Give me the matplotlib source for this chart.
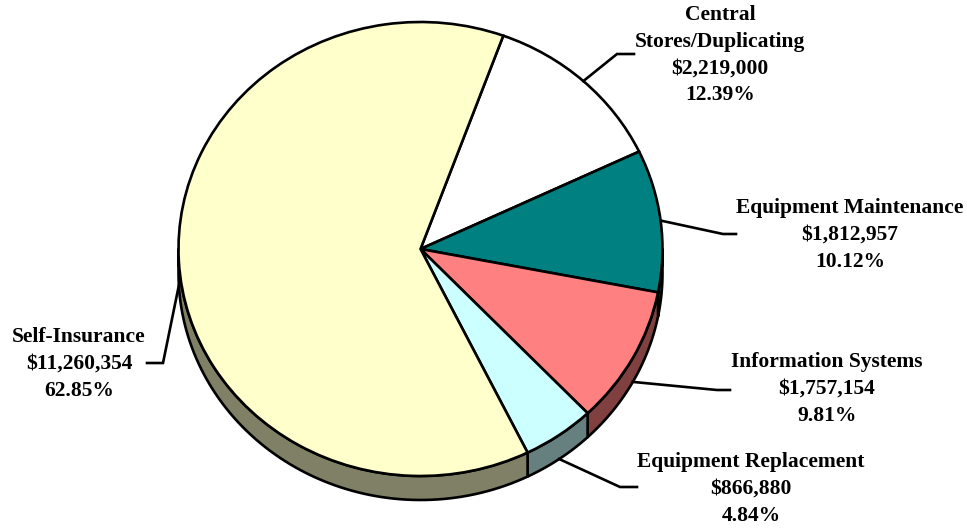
import numpy as np
import matplotlib.pyplot as plt
from matplotlib.patches import Polygon

# data
categories = ["Central\nStores/Duplicating", "Equipment Maintenance",
              "Information Systems", "Equipment Replacement", "Self-Insurance"]
amounts = [2219000, 1812957, 1757154, 866880, 11260354]
top_colors = ["#FFFFFF", "#008080", "#FF8080", "#CCFFFF", "#FFFFCC"]
side_colors = ["#808080", "#004040", "#804040", "#668080", "#808066"]

# leader elbows / ends and label centres, in pixels of the reference
elbows = [(617, 54), (723, 234), (717, 390), (620, 487), (163, 363)]
ends = [(634, 54), (736, 234), (730, 390), (637, 487), (147, 363)]
text_pos = [(720, 55), (850, 235), (827, 389), (751, 489), (79, 364)]

W, H = 967, 529
CX, CY = 420.5, 249      # pie centre
RX, RY = 242, 227        # top-face radii
DEPTH = 24 / RY


def px(x, y):
    return (x - CX) / RX, (CY - y) / RY


fig = plt.figure(figsize=(W / 100, H / 100), dpi=100)
ax = fig.add_axes([0, 0, 1, 1])

wedges, _ = ax.pie(
    amounts,
    colors=top_colors,
    startangle=70,
    counterclock=False,
    wedgeprops=dict(edgecolor="black", linewidth=1.9),
)
for w in wedges:
    w.set_zorder(3)


def front_spans(t1, t2):
    spans = []
    for k in (-720, -360, 0, 360):
        a, b = max(t1 + k, -180), min(t2 + k, 0)
        if b > a:
            spans.append((a, b))
    return spans


# side of the 3D pie
for w, side in zip(wedges, side_colors):
    for a, b in front_spans(w.theta1, w.theta2):
        t = np.radians(np.linspace(a, b, 80))
        top = np.c_[np.cos(t), np.sin(t)]
        bot = np.c_[np.cos(t[::-1]), np.sin(t[::-1]) - DEPTH]
        ax.add_patch(Polygon(np.vstack([top, bot]), closed=True, fc=side,
                             ec="black", lw=1.9, joinstyle="round", zorder=2))

# labels with leader lines
total = sum(amounts)
for w, name, amt, el, en, tp in zip(wedges, categories, amounts, elbows, ends, text_pos):
    m = np.radians((w.theta1 + w.theta2) / 2)
    sx, sy = np.cos(m), np.sin(m)
    if sy < 0:
        sy -= DEPTH
    ex, ey = px(*el)
    nx, ny = px(*en)
    ax.plot([sx, ex, nx], [sy, ey, ny], color="black", lw=1.9, zorder=4,
            solid_joinstyle="miter")
    tx, ty = px(*tp)
    label = f"{name}\n${amt:,}\n{amt / total * 100:.2f}%"
    ax.text(tx, ty, label, ha="center", va="center", multialignment="center",
            fontsize=15.5, fontweight="bold", family="Liberation Serif",
            linespacing=1.45, color="black")

ax.set_aspect("auto")
ax.set_xlim((0 - CX) / RX, (W - CX) / RX)
ax.set_ylim((CY - H) / RY, CY / RY)
ax.axis("off")

plt.savefig("out.png", dpi=100)
